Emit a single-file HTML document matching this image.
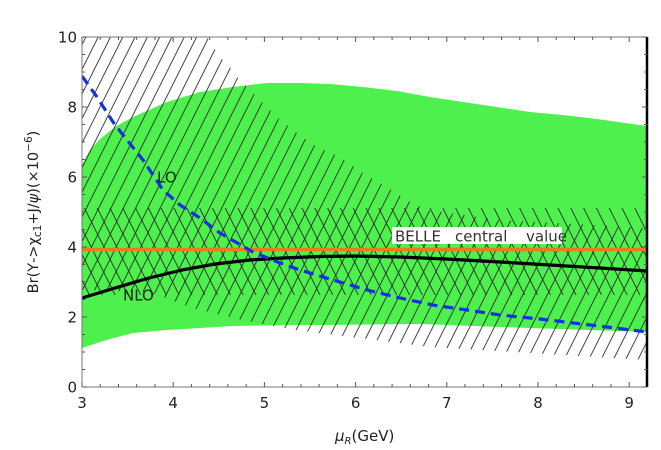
<!DOCTYPE html>
<html>
<head>
<meta charset="utf-8">
<style>
html,body{margin:0;padding:0;background:#fff;}
svg{display:block;}
text{font-family:"DejaVu Sans","Liberation Sans",sans-serif;}
</style>
</head>
<body>
<svg width="661" height="450" viewBox="0 0 661 450" xmlns="http://www.w3.org/2000/svg">
<defs>
  <clipPath id="c"><rect x="82" y="37" width="565" height="350"/></clipPath>
  <pattern id="h1" patternUnits="userSpaceOnUse" width="12.3" height="40" patternTransform="skewX(-26.57)">
    <line x1="6" y1="-2" x2="6" y2="42" stroke="#222" stroke-width="0.95"/>
  </pattern>
  <pattern id="h2" patternUnits="userSpaceOnUse" width="12.8" height="40" patternTransform="skewX(26.57)">
    <line x1="6" y1="-2" x2="6" y2="42" stroke="#222" stroke-width="0.95"/>
  </pattern>
</defs>

<g clip-path="url(#c)">
  <!-- green band -->
  <polygon fill="#4ef04e" points="82,165 90,150 100,139 115,127 133,117 167,102 200,92 233,87 267,83 300,83 330,84 363,87 397,91 430,97 463,102 497,107 530,112 563,115 597,119 647,126 647,332 560,329 500,327 420,324 330,325 300,325 233,326 200,328 167,330 133,333 110,339 100,342 82,348"/>
  <!-- LO band hatch (/) -->
  <polygon fill="url(#h1)" points="82,37 207,37 220,57 230,67 237,77 260,100 277,117 297,133 317,147 340,157 363,173 387,187 407,200 427,210 500,220 647,228 647,360 430,347 335,335 295,330 242,320 192,308 150,292 82,290"/>
  <!-- BELLE band hatch (\) -->
  <rect x="82" y="208" width="565" height="87" fill="url(#h2)"/>
  <!-- BELLE central line -->
  <line x1="82" y1="249.5" x2="647" y2="249.5" stroke="#f07a1a" stroke-width="3.5"/>
  <!-- NLO -->
  <polyline fill="none" stroke="#000" stroke-width="3.2" stroke-linejoin="round" points="82,298 115,288 149,278 182,270 215,264 250,260 282,258 320,256.5 356,256 400,257 446,259 500,262 550,265 600,268 647,271"/>
  <!-- LO dashed -->
  <polyline fill="none" stroke="#1530e0" stroke-width="3.2" stroke-dasharray="10,6" points="82,76 97,97 113,122 127,140 143,160 163,190 180,205 200,218 220,233 253,252 280,263 300,270 333,280 367,290 400,298 433,305 467,310 500,315 540,319 607,327 647,332"/>
</g>

<!-- BELLE label -->
<rect x="392" y="227" width="170" height="17" fill="#fff"/>
<text x="395" y="241.5" font-size="15" fill="#333">BELLE</text>
<text x="455" y="241.5" font-size="15" fill="#333">central</text>
<text x="526" y="241.5" font-size="15" fill="#333">value</text>

<text x="157" y="182.5" font-size="15" fill="#222">LO</text>
<text x="123" y="300.5" font-size="15" fill="#222">NLO</text>

<!-- frame -->
<line x1="82" y1="37" x2="647" y2="37" stroke="#777" stroke-width="1"/>
<line x1="82" y1="387" x2="647" y2="387" stroke="#777" stroke-width="1"/>
<line x1="82" y1="37" x2="82" y2="387" stroke="#777" stroke-width="1"/>
<line x1="647" y1="37" x2="647" y2="387" stroke="#000" stroke-width="2.5"/>

<!-- ticks -->
<g stroke="#555" stroke-width="1">
  <path d="M82,387v-5M173.2,387v-5M264.4,387v-5M355.6,387v-5M446.8,387v-5M538,387v-5M629.2,387v-5
           M82,37v5M173.2,37v5M264.4,37v5M355.6,37v5M446.8,37v5M538,37v5M629.2,37v5"/>
  <path d="M100.2,387v-3M118.5,387v-3M136.7,387v-3M155,387v-3M191.4,387v-3M209.7,387v-3M227.9,387v-3M246.2,387v-3M282.6,387v-3M300.9,387v-3M319.1,387v-3M337.4,387v-3M373.8,387v-3M392.1,387v-3M410.3,387v-3M428.6,387v-3M465,387v-3M483.3,387v-3M501.5,387v-3M519.8,387v-3M556.2,387v-3M574.5,387v-3M592.7,387v-3M611,387v-3
           M100.2,37v3M118.5,37v3M136.7,37v3M155,37v3M191.4,37v3M209.7,37v3M227.9,37v3M246.2,37v3M282.6,37v3M300.9,37v3M319.1,37v3M337.4,37v3M373.8,37v3M392.1,37v3M410.3,37v3M428.6,37v3M465,37v3M483.3,37v3M501.5,37v3M519.8,37v3M556.2,37v3M574.5,37v3M592.7,37v3M611,37v3"/>
  <path d="M82,387h5M82,317h5M82,247h5M82,177h5M82,107h5M82,37h5
           M647,387h-5M647,317h-5M647,247h-5M647,177h-5M647,107h-5M647,37h-5"/>
  <path d="M82,369.5h3M82,352h3M82,334.5h3M82,299.5h3M82,282h3M82,264.5h3M82,229.5h3M82,212h3M82,194.5h3M82,159.5h3M82,142h3M82,124.5h3M82,89.5h3M82,72h3M82,54.5h3
           M647,369.5h-3M647,352h-3M647,334.5h-3M647,299.5h-3M647,282h-3M647,264.5h-3M647,229.5h-3M647,212h-3M647,194.5h-3M647,159.5h-3M647,142h-3M647,124.5h-3M647,89.5h-3M647,72h-3M647,54.5h-3"/>
</g>

<!-- y tick labels -->
<g font-size="15" fill="#222" text-anchor="end">
  <text x="77" y="42.5">10</text>
  <text x="77" y="112.5">8</text>
  <text x="77" y="182.5">6</text>
  <text x="77" y="252.5">4</text>
  <text x="77" y="322.5">2</text>
  <text x="77" y="392.5">0</text>
</g>
<!-- x tick labels -->
<g font-size="15" fill="#222" text-anchor="middle">
  <text x="82" y="408">3</text>
  <text x="173.2" y="408">4</text>
  <text x="264.4" y="408">5</text>
  <text x="355.6" y="408">6</text>
  <text x="446.8" y="408">7</text>
  <text x="538" y="408">8</text>
  <text x="629.2" y="408">9</text>
</g>

<!-- axis titles -->
<text transform="translate(38,212) rotate(-90)" font-size="14.5" fill="#222" text-anchor="middle">Br(Υ-&gt;χ<tspan font-size="10.5" dy="3">c1</tspan><tspan dy="-3">+J/</tspan><tspan font-style="italic">ψ</tspan>)(×10<tspan font-size="10.5" dy="-6">−6</tspan><tspan dy="6">)</tspan></text>

<text x="335" y="441" font-size="15" fill="#222"><tspan font-style="italic">μ</tspan><tspan font-size="10" dy="3" font-style="italic">R</tspan><tspan dy="-3">(GeV)</tspan></text>
</svg>
</body>
</html>
